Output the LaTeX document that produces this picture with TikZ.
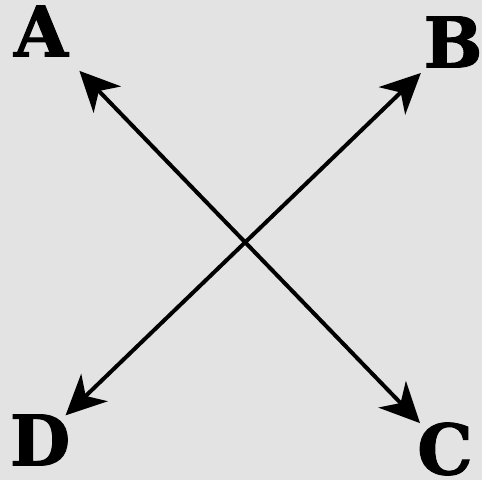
\documentclass[tikz,border=0pt]{standalone}
\usepackage{fontspec}
\setmainfont{DejaVu Serif}[BoldFeatures={FakeBold=1.5}]
\usetikzlibrary{arrows.meta}
\definecolor{paper}{gray}{0.89}
\tikzset{
  letter/.style={inner sep=0pt,font=\fontsize{70}{70}\selectfont\bfseries},
  dbl/.style={{Stealth[length=40bp,width=38bp,inset=12bp]}-{Stealth[length=40bp,width=38bp,inset=12bp]},line width=4bp}
}
\begin{document}
\begin{tikzpicture}[x=1bp,y=-1bp]
  % 背景
  \useasboundingbox (0,0) rectangle (482,480);
  \fill[paper] (0,0) rectangle (482,480);
  % 文字
  \node[letter] (A) at (41,31) {A};
  \node[letter] (B) at (453,42) {B};
  \node[letter] (C) at (445,449) {C};
  \node[letter] (D) at (40,440) {D};
  % 矢印
  \draw[dbl,shorten <=19.8bp,shorten >=-1bp] (A) -- (C);
  \draw[dbl,shorten <=7.8bp,shorten >=-1.4bp] (B) -- (D);
\end{tikzpicture}
\end{document}
